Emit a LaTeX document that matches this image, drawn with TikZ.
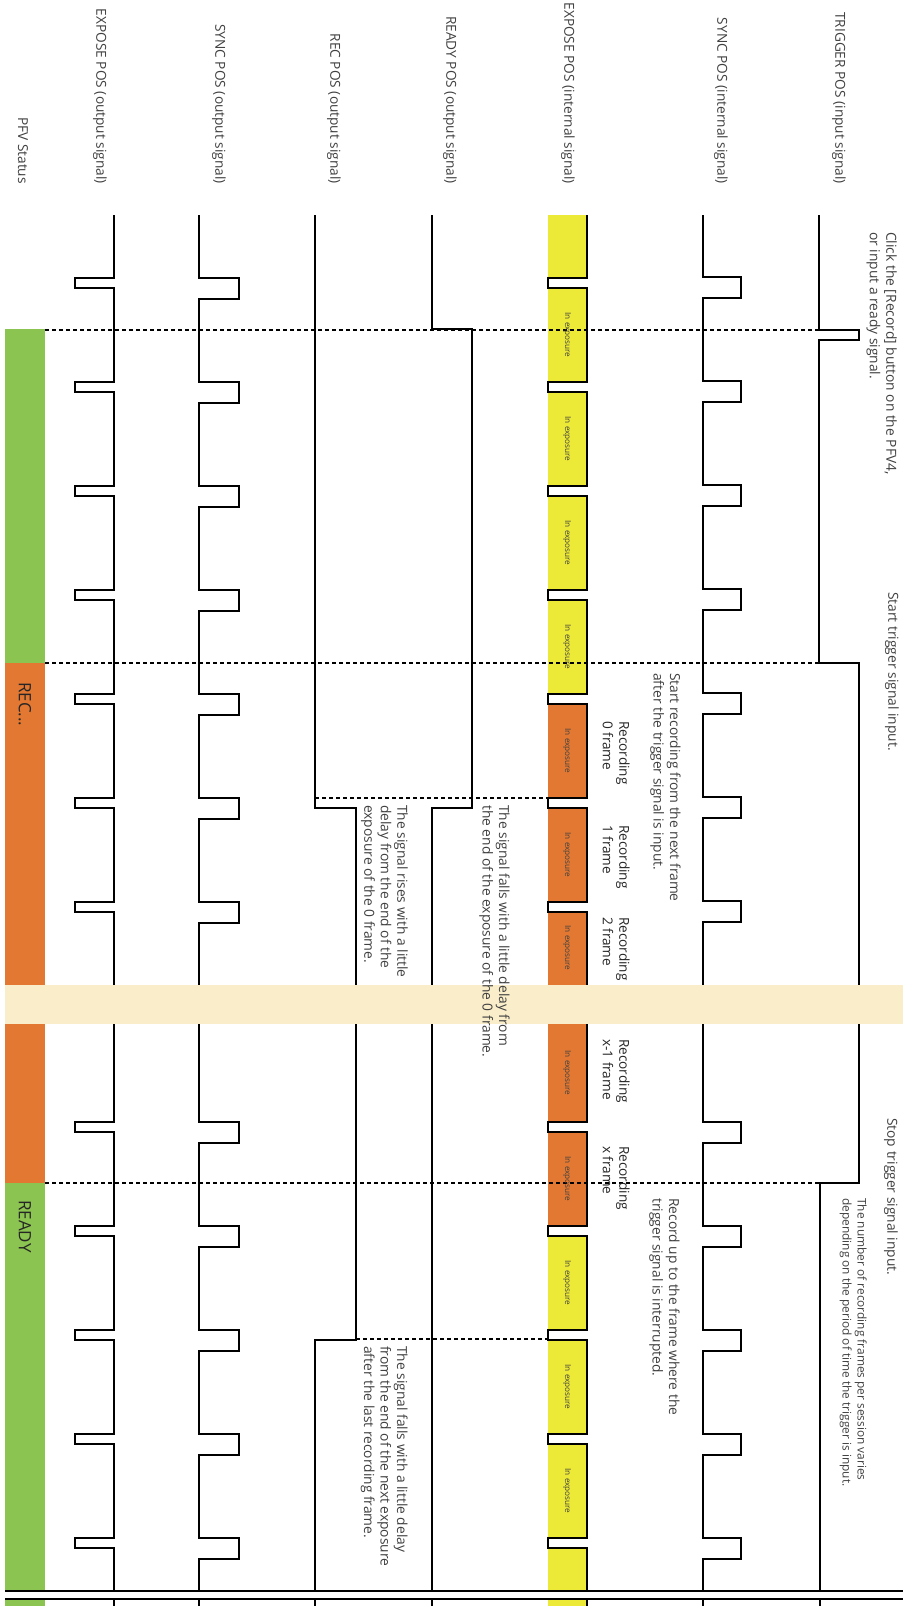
\documentclass[tikz,border=0pt]{standalone}
\usepackage{fontspec}
\setmainfont{Open Sans}
\usepackage{tikz}
\usepackage{xcolor}
\definecolor{statusgreen}{RGB}{139,196,80}
\definecolor{recorange}{RGB}{226,120,50}
\definecolor{expyellow}{RGB}{237,234,55}
\definecolor{breakband}{RGB}{250,237,202}
\definecolor{txtgray}{RGB}{64,64,64}
\tikzstyle{siglabel}=[rotate=-90, anchor=east, inner sep=0pt, text=txtgray,
font=\fontsize{13.7}{16}\selectfont]
\tikzstyle{note}=[rotate=-90, anchor=north west, inner sep=0pt, align=left, text=txtgray,
font=\fontsize{13.8}{16.5}\selectfont]
\tikzstyle{framelabel}=[rotate=-90, anchor=north, inner sep=0pt, align=left, text=black!85,
font=\fontsize{13.6}{16.5}\selectfont]
\tikzstyle{expolabel}=[rotate=-90, inner sep=0pt, text=black!75, font=\fontsize{8.2}{9}\selectfont]
\tikzstyle{status}=[rotate=-90, anchor=west, inner sep=0pt, text=black!85, font=\fontsize{17}{19}\selectfont]
\tikzstyle{wave}=[draw=black, line width=1.4pt]
\tikzstyle{cutline}=[draw=black, line width=1.4pt, dash pattern=on 4pt off 3pt]

\begin{document}
\begin{tikzpicture}[x=1pt, y=-1pt]
\useasboundingbox (0,0) rectangle (903,1606);

% PFV status bar
\fill[statusgreen] (5,329) rectangle (45,663);
\fill[recorange] (5,663) rectangle (45,1183);
\fill[statusgreen] (5,1183) rectangle (45,1591);
\fill[statusgreen] (5,1599) rectangle (45,1606);

% exposure frames
\fill[expyellow] (548,215) rectangle (587,278);
\foreach \s in {288,392,496,600,1236,1340,1444}
    \fill[expyellow] (548,\s) rectangle (587,\s+94);
\foreach \s in {704,808,1132}
    \fill[recorange] (548,\s) rectangle (587,\s+94);
\fill[recorange] (548,912) rectangle (587,1122);
\fill[expyellow] (548,1548) rectangle (587,1591);
\fill[expyellow] (548,1599) rectangle (587,1606);

% signals
\draw[wave] (587,215) \foreach \g in {278,382,486,590,694,798,902,1122,1226,1330,1434,1538}
    {-- (587,\g) -- (548,\g) -- (548,\g+10) -- (587,\g+10)} -- (587,1591);
\draw[wave] (114,215) \foreach \g in {278,382,486,590,694,798,902,1122,1226,1330,1434,1538}
    {-- (114,\g) -- (75,\g) -- (75,\g+10) -- (114,\g+10)} -- (114,1591);
\draw[wave] (199,215) \foreach \g in {278,382,486,590,694,798,902,1122,1226,1330,1434,1538}
    {-- (199,\g) -- (239,\g) -- (239,\g+21) -- (199,\g+21)} -- (199,1591);
\draw[wave] (703,215) \foreach \g in {277,381,485,589,693,797,901,1122,1226,1330,1434,1538}
    {-- (703,\g) -- (741,\g) -- (741,\g+21) -- (703,\g+21)} -- (703,1591);
\draw[wave] (819,215) -- (819,330) -- (859,330) -- (859,340) -- (819,340) -- (819,663)
    -- (859,663) -- (859,1183) -- (820,1183) -- (820,1591);
\draw[wave] (432,215) -- (432,329) -- (472,329) -- (472,808) -- (432,808) -- (432,1591);
\draw[wave] (315,215) -- (315,808) -- (356,808) -- (356,1340) -- (315,1340) -- (315,1591);

% timing marks
\draw[cutline] (45,330) -- (819,330);
\draw[cutline] (45,663) -- (819,663);
\draw[cutline] (315,798) -- (548,798);
\draw[cutline] (45,1183) -- (820,1183);
\draw[cutline] (356,1339) -- (548,1339);

% time break
\fill[breakband] (5,985) rectangle (903,1024);
\draw[line width=1.4pt] (5,1591) -- (903,1591);
\draw[line width=1.4pt] (5,1599) -- (903,1599);
\foreach \x in {114,199,315,432,587,703,820}
    \draw[wave] (\x,1599) -- (\x,1606);

% signal names
\node (trig) [siglabel] at (839,184) {TRIGGER POS (input signal)};
\node (syncin) [siglabel] at (721,184) {SYNC POS (internal signal)};
\node (expin) [siglabel] at (568,184) {EXPOSE POS (internal signal)};
\node (ready) [siglabel] at (450,184) {READY POS (output signal)};
\node (rec) [siglabel] at (334,184) {REC POS (output signal)};
\node (syncout) [siglabel] at (219,184) {SYNC POS (output signal)};
\node (expout) [siglabel] at (100,184) {EXPOSE POS (output signal)};
\node (pfv) [siglabel] at (23,184) {PFV Status};

\node (stRec) [status] at (25,682) {REC...};
\node (stReady) [status] at (25,1200) {READY};

\foreach \c in {335,439,543,647,751,855,948,1073,1179,1283,1387,1491}
    \node (exp\c) [expolabel] at (567,\c) {In exposure};

\node (frame0) [framelabel] at (630,753) {Recording\\0 frame};
\node (frame1) [framelabel] at (630,857) {Recording\\1 frame};
\node (frame2) [framelabel] at (630,949) {Recording\\2 frame};
\node (framex1) [framelabel] at (630,1071) {Recording\\x-1 frame};
\node (framex) [framelabel] at (630,1178) {Recording\\x frame};

% notes
\node (click) [note] at (897,232) {Click the [Record] button on the PFV4,\\or input a ready signal.};
\node (starttrig) [note] at (899,592) {Start trigger signal input.};
\node (startrec) [note] at (681,673) {Start recording from the next frame\\after the trigger signal is input.};
\node (readyfall) [note] at (510,805) {The signal falls with a little delay from\\the end of the exposure of the 0 frame.};
\node (recrise) [note] at (408,805) {The signal rises with a little\\delay from the end of the\\exposure of the 0 frame.};
\node (stoptrig) [note] at (898,1118) {Stop trigger signal input.};
\node (framecount) [note, font=\fontsize{11.9}{15}\selectfont] at (867,1198)
    {The number of recording frames per session varies\\depending on the period of time the trigger is input.};
\node (recupto) [note] at (680,1198) {Record up to the frame where the\\trigger signal is interrupted.};
\node (recfall) [note] at (408,1346) {The signal falls with a little delay\\from the end of the next exposure\\after the last recording frame.};
\end{tikzpicture}
\end{document}
